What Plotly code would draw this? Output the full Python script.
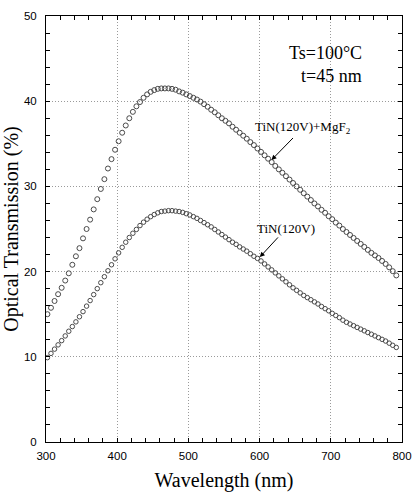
import plotly.graph_objects as go

wavelength = list(range(302, 793, 5))

tin_mgf2 = [15.0, 15.75, 16.55, 17.35, 18.1, 18.95, 19.8, 20.8, 21.8, 22.75,
            23.9, 25.0, 26.1, 27.3, 28.5, 29.7, 30.85, 32.1, 33.2, 34.3,
            35.3, 36.3, 37.15, 38.0, 38.75, 39.4, 39.9, 40.4, 40.8, 41.1,
            41.3, 41.45, 41.5, 41.5, 41.5, 41.45, 41.35, 41.15, 41.0, 40.8,
            40.6, 40.4, 40.2, 39.95, 39.65, 39.35, 39.0, 38.7, 38.35, 38.0,
            37.7, 37.4, 37.0, 36.65, 36.3, 35.95, 35.6, 35.2, 34.85, 34.45,
            34.05, 33.65, 33.25, 32.85, 32.4, 32.0, 31.6, 31.2, 30.8, 30.4,
            30.0, 29.6, 29.2, 28.8, 28.4, 28.0, 27.65, 27.25, 26.9, 26.5,
            26.15, 25.75, 25.4, 25.0, 24.65, 24.3, 23.95, 23.6, 23.25, 22.9,
            22.55, 22.2, 21.9, 21.6, 21.25, 20.9, 20.5, 20.05, 19.55]

tin = [9.9, 10.4, 10.9, 11.4, 11.9, 12.45, 13.0, 13.55, 14.1, 14.7,
       15.3, 15.95, 16.6, 17.3, 18.0, 18.7, 19.4, 20.1, 20.8, 21.5,
       22.2, 22.85, 23.45, 24.0, 24.5, 24.95, 25.4, 25.8, 26.15, 26.45,
       26.7, 26.9, 27.05, 27.1, 27.15, 27.15, 27.1, 27.05, 26.95, 26.8,
       26.65, 26.45, 26.25, 26.0, 25.75, 25.5, 25.25, 24.95, 24.65, 24.35,
       24.05, 23.75, 23.45, 23.2, 22.9, 22.65, 22.4, 22.1, 21.8, 21.55,
       21.25, 20.9, 20.55, 20.2, 19.85, 19.5, 19.15, 18.8, 18.45, 18.1,
       17.8, 17.5, 17.2, 16.95, 16.7, 16.45, 16.2, 15.9, 15.65, 15.4,
       15.1, 14.85, 14.6, 14.3, 14.05, 13.85, 13.65, 13.45, 13.25, 13.05,
       12.85, 12.65, 12.45, 12.25, 12.05, 11.85, 11.6, 11.35, 11.1]

x_ticks = [300, 400, 500, 600, 700, 800]
y_ticks = [0, 10, 20, 30, 40, 50]

serif = "Liberation Serif, Times New Roman, serif"
sans = "Liberation Sans, Arial, sans-serif"
mcol = "#4a4a4a"

fig = go.Figure()
fig.add_trace(go.Scatter(x=wavelength, y=tin_mgf2, mode="markers", name="TiN(120V)+MgF2",
                         marker=dict(symbol="circle-open", size=5, color=mcol, line=dict(width=1, color=mcol))))
fig.add_trace(go.Scatter(x=wavelength, y=tin, mode="markers", name="TiN(120V)",
                         marker=dict(symbol="circle-open", size=4.5, color=mcol, line=dict(width=1, color=mcol))))

axis_common = dict(showline=True, linecolor="black", linewidth=1, mirror="ticks",
                   ticks="inside", ticklen=4, tickcolor="black", automargin=False,
                   showgrid=True, gridcolor="#9a9a9a", griddash="1px,2px", gridwidth=1,
                   zeroline=False, tickfont=dict(family=sans, size=11.5, color="black"))

fig.update_xaxes(range=[300, 800], tickvals=x_ticks, ticktext=[str(v) for v in x_ticks],
                 minor=dict(dtick=20, tick0=300, ticks="inside", ticklen=4, tickcolor="black", showgrid=False),
                 title=dict(text="Wavelength (nm)", font=dict(family=serif, size=20, color="black"), standoff=12),
                 ticklabelstandoff=3, **axis_common)
fig.update_yaxes(range=[0, 50], tickvals=y_ticks, ticktext=[str(v) for v in y_ticks],
                 minor=dict(dtick=2, tick0=0, ticks="inside", ticklen=4, tickcolor="black", showgrid=False),
                 title=dict(text="Optical Transmission (%)", font=dict(family=serif, size=20, color="black"), standoff=8),
                 ticklabelstandoff=6, **axis_common)

fig.add_annotation(x=616.7, y=33.1, ax=31.3, ay=-32, xref="x", yref="y",
                   text="TiN(120V)+MgF<sub>2</sub>",
                   showarrow=True, arrowhead=2, arrowsize=1, arrowwidth=1, arrowcolor="black",
                   font=dict(family=serif, size=13, color="black"))
fig.add_annotation(x=600.3, y=21.7, ax=26.5, ay=-28.7, xref="x", yref="y",
                   text="TiN(120V)",
                   showarrow=True, arrowhead=2, arrowsize=1, arrowwidth=1, arrowcolor="black",
                   font=dict(family=serif, size=13, color="black"))
fig.add_annotation(x=747, y=45.6, xref="x", yref="y", text="Ts=100°C",
                   showarrow=False, xanchor="right", yanchor="middle",
                   font=dict(family=serif, size=18, color="black"))
fig.add_annotation(x=747, y=43.0, xref="x", yref="y", text="t=45 nm",
                   showarrow=False, xanchor="right", yanchor="middle",
                   font=dict(family=serif, size=18, color="black"))

fig.update_layout(width=413, height=497, margin=dict(l=46, r=10.5, t=16, b=55.3),
                  paper_bgcolor="white", plot_bgcolor="white", showlegend=False)

fig.write_html("out.html")
